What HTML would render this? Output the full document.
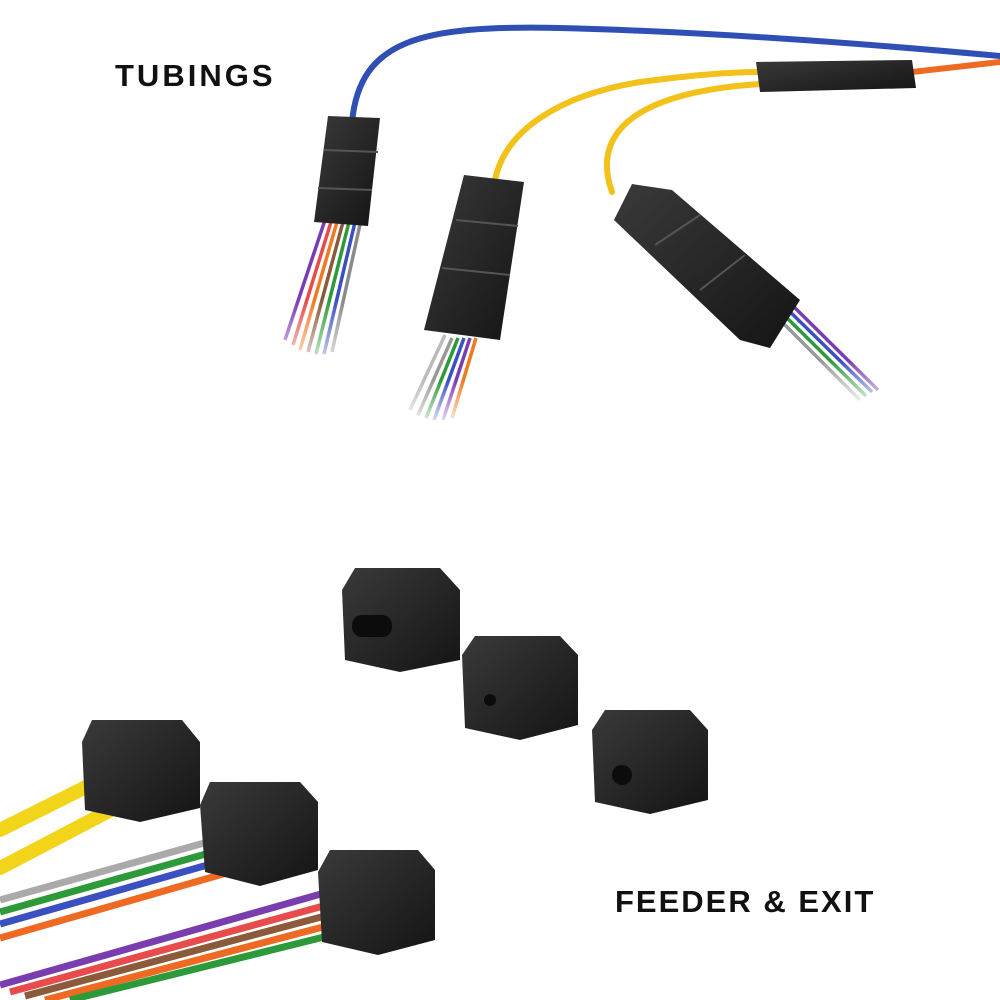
<!DOCTYPE html>
<html><head><meta charset="utf-8"><style>
html,body{margin:0;padding:0;background:#fff;}
svg{display:block}
text{font-family:"Liberation Sans",sans-serif;font-weight:bold;fill:#111}
</style></head><body>
<svg width="1000" height="1000" viewBox="0 0 1000 1000" xmlns="http://www.w3.org/2000/svg">
<defs>
<linearGradient id="bk" x1="0" y1="0" x2="1" y2="1"><stop offset="0" stop-color="#3a3a3a"/><stop offset="1" stop-color="#141414"/></linearGradient>
<linearGradient id="fade" x1="0" y1="0" x2="0" y2="1"><stop offset="0" stop-color="#fff" stop-opacity="0"/><stop offset="1" stop-color="#fff" stop-opacity="1"/></linearGradient>
</defs>
<rect width="1000" height="1000" fill="#fff"/>
<text x="115" y="86" font-size="31" letter-spacing="3">TUBINGS</text>
<text x="615" y="912" font-size="31" letter-spacing="2">FEEDER &amp; EXIT</text>

<g fill="none" stroke-linecap="round">
<path d="M352 122 C360 40 420 25 560 28 C720 32 880 45 1000 56" stroke="#2f4fb5" stroke-width="6"/>
<path d="M495 180 C505 130 560 95 640 82 C700 74 740 72 760 72" stroke="#f2c11a" stroke-width="6"/>
<path d="M612 192 C590 130 640 92 760 84" stroke="#f2c11a" stroke-width="6"/>
<path d="M912 72 L1000 62" stroke="#ee6a22" stroke-width="6"/>
</g>
<polygon points="756,62 912,60 916,88 760,92" fill="url(#bk)"/>

<g fill="none" stroke-width="3.5">
<path d="M325 220 L285 340" stroke="#7a3db0"/>
<path d="M331 222 L293 345" stroke="#e84b4b"/>
<path d="M337 222 L300 350" stroke="#ee7a22"/>
<path d="M343 222 L308 352" stroke="#8a5a3a"/>
<path d="M349 222 L316 354" stroke="#2d9a3a"/>
<path d="M355 222 L324 354" stroke="#3a4fc0"/>
<path d="M361 220 L332 352" stroke="#8a8a8a"/>
</g>
<rect x="270" y="300" width="100" height="80" fill="url(#fade)"/>
<polygon points="328,116 380,118 368,226 314,222" fill="url(#bk)"/>
<line x1="324" y1="150" x2="378" y2="152" stroke="#555" stroke-width="2"/>
<line x1="318" y1="188" x2="372" y2="190" stroke="#555" stroke-width="2"/>

<g fill="none" stroke-width="3.5">
<path d="M445 335 L410 410" stroke="#bbb"/>
<path d="M452 338 L418 415" stroke="#999"/>
<path d="M458 338 L426 418" stroke="#2d9a3a"/>
<path d="M464 338 L434 420" stroke="#3a4fc0"/>
<path d="M470 338 L443 420" stroke="#7a3db0"/>
<path d="M476 338 L452 418" stroke="#ee7a22"/>
</g>
<rect x="395" y="380" width="90" height="50" fill="url(#fade)"/>
<polygon points="464,175 524,182 500,340 424,330" fill="url(#bk)"/>
<line x1="456" y1="220" x2="518" y2="226" stroke="#555" stroke-width="2"/>
<line x1="442" y1="268" x2="510" y2="275" stroke="#555" stroke-width="2"/>

<g fill="none" stroke-width="3.5">
<path d="M770 310 L860 400" stroke="#999"/>
<path d="M775 306 L866 396" stroke="#2d9a3a"/>
<path d="M780 302 L872 392" stroke="#3a4fc0"/>
<path d="M785 298 L878 390" stroke="#7a3db0"/>
</g>
<rect x="820" y="360" width="70" height="50" fill="url(#fade)"/>
<polygon points="632,184 672,190 800,300 770,348 740,340 614,220" fill="url(#bk)"/>
<line x1="655" y1="245" x2="700" y2="215" stroke="#555" stroke-width="2"/>
<line x1="700" y1="290" x2="745" y2="255" stroke="#555" stroke-width="2"/>

<g>
<polygon points="355,568 440,568 460,590 460,660 400,672 345,660 342,590" fill="url(#bk)"/>
<rect x="352" y="615" width="40" height="22" rx="10" fill="#0c0c0c"/>
<polygon points="475,636 560,636 578,655 578,725 520,740 465,728 462,655" fill="url(#bk)"/>
<circle cx="490" cy="700" r="6" fill="#0c0c0c"/>
<polygon points="605,710 690,710 708,730 708,800 650,814 595,802 592,730" fill="url(#bk)"/>
<circle cx="622" cy="775" r="10" fill="#0c0c0c"/>
</g>

<g fill="none" stroke-linecap="round">
<path d="M0 830 L120 770" stroke="#f2d51a" stroke-width="14"/>
<path d="M0 868 L130 800" stroke="#f2d51a" stroke-width="14"/>
</g>
<polygon points="92,720 182,720 200,742 200,808 140,822 85,810 82,742" fill="url(#bk)"/>

<g fill="none" stroke-width="7">
<path d="M0 900 L215 840" stroke="#aaa"/>
<path d="M0 912 L220 850" stroke="#2d9a3a"/>
<path d="M0 924 L225 860" stroke="#3a4fc0"/>
<path d="M0 938 L230 872" stroke="#ee6a22"/>
</g>
<polygon points="210,782 300,782 318,802 318,870 260,886 205,872 200,805" fill="url(#bk)"/>

<g fill="none" stroke-width="7">
<path d="M0 985 L335 890" stroke="#7a3db0"/>
<path d="M10 992 L338 902" stroke="#e84b4b"/>
<path d="M25 996 L340 912" stroke="#8a5a3a"/>
<path d="M45 1000 L342 922" stroke="#ee6a22"/>
<path d="M70 1000 L344 932" stroke="#2d9a3a"/>
</g>
<polygon points="330,850 418,850 435,870 435,940 378,955 322,942 318,872" fill="url(#bk)"/>
</svg>
</body></html>
